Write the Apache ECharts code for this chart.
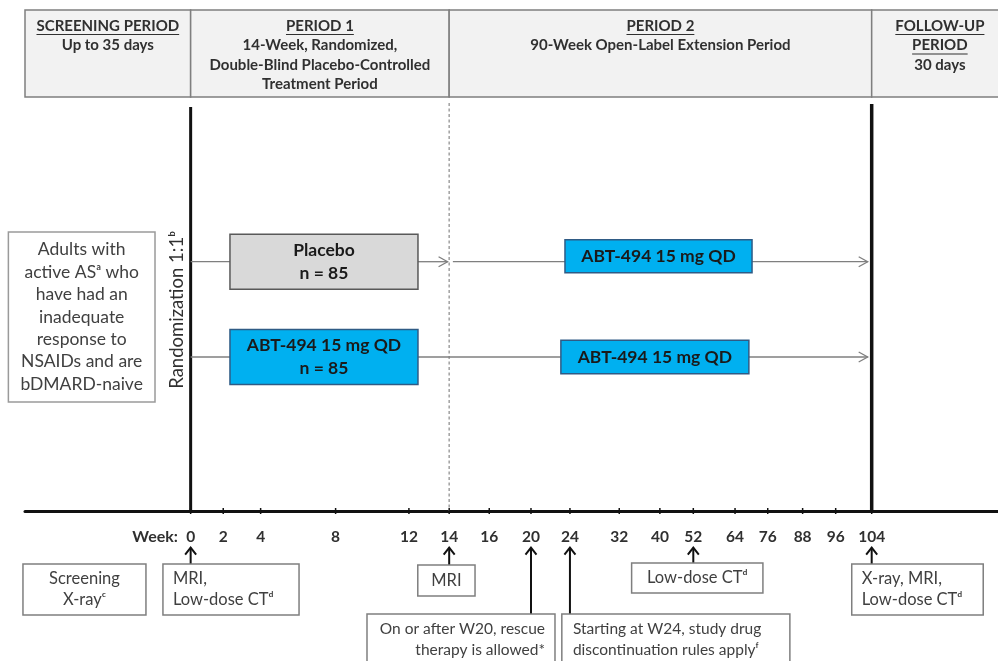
<!DOCTYPE html>
<html><head><meta charset="utf-8">
<script src="https://cdn.jsdelivr.net/npm/echarts@6/dist/echarts.min.js"></script>
<style>html,body{margin:0;padding:0;background:#fff}#c{width:998px;height:661px}</style>
</head><body><div id="c"></div>
<script>
// ================= DATA =================
const weekTicks = [0, 2, 4, 8, 12, 14, 16, 20, 24, 32, 40, 52, 64, 76, 88, 96, 104];
const periodTitles = [['SCREENING PERIOD'], ['PERIOD 1'], ['PERIOD 2'], ['FOLLOW-UP', 'PERIOD']];
const periodSubtitles = [
  ['Up to 35 days'],
  ['14-Week, Randomized,', 'Double-Blind Placebo-Controlled', 'Treatment Period'],
  ['90-Week Open-Label Extension Period'],
  ['30 days']
];
const periodStartWeek = [null, 0, 14, 104];
const periodEndWeek = [0, 14, 104, null];
const milestoneWeeks = [0, 14, 104];
const armNames = ['Placebo', 'ABT-494 15 mg QD'];
const armSizes = [85, 85];
const extensionTreatments = ['ABT-494 15 mg QD', 'ABT-494 15 mg QD'];
const populationLines = ['Adults with', 'active ASᵃ who', 'have had an', 'inadequate', 'response to', 'NSAIDs and are', 'bDMARD-naive'];
const randomizationLabel = 'Randomization 1:1ᵇ';
const weekAxisName = 'Week:';
const screeningLines = ['Screening', 'X-rayᶜ'];
const assessmentWeeks = [0, 14, 20, 24, 52, 104];
const assessmentLines = [
  ['MRI,', 'Low-dose CTᵈ'],
  ['MRI'],
  ['On or after W20, rescue', 'therapy is allowed*'],
  ['Starting at W24, study drug', 'discontinuation rules applyᶠ'],
  ['Low-dose CTᵈ'],
  ['X-ray, MRI,', 'Low-dose CTᵈ']
];

// ================= LAYOUT / STYLE =================
const AX_MIN = -8.97, AX_MAX = 43.72;   // display axis units
// display gaps between consecutive week ticks (non-linear, schematic timeline axis)
const TICK_GAPS = [1.765, 2.025, 4.06, 3.97, 2.18, 2.17, 2.26, 2.11, 2.67, 2.2, 1.81, 2.26, 1.77, 1.89, 1.79, 1.95];
const FONT = 'Lato, "Noto Sans", "DejaVu Sans", sans-serif';
const COL = {
  text: '#303030', soft: '#404040', border: '#7f7f7f', headerFill: '#f2f2f2',
  black: '#111111', arm: '#7f7f7f', placebo: '#d9d9d9', placeboBorder: '#595959',
  abt: '#00b0f0', abtBorder: '#2f5b85', dashed: '#a0a0a0'
};
const LAYOUT = {
  header: { top: 501, bottom: 414, rightWeek: 134.3, firstLineY: 485, lineH: 19.5, size: 15 },
  milestones: [
    { top: 404, w: 3, color: COL.black, dash: null },
    { top: 408, w: 1.5, color: COL.dashed, dash: [3, 2.5] },
    { top: 407, w: 3.5, color: COL.black, dash: null }
  ],
  armY: [249.3, 154],
  box1: { from: 2.36, to: 12.45, half: 27.5, size: 17.5, textDy: 11.5 },
  box2: [{ from: 23.49, to: 70.24, dy: 5.5, half: 16.5 }, { from: 23.07, to: 69.08, dy: 0, half: 16.8 }],
  population: { x0: -9.87, x1: -1.93, top: 279, bottom: 109, lineH: 22.4, size: 17.5 },
  randomization: { x: -0.74, y: 201, size: 18.5 },
  tick: { half: 3, w: 1.5 },
  tickLabel: { y: -25.7, size: 15.5 },
  weekName: { x: -0.69, y: -25.7, size: 16 },
  screening: { x0: -9.08, x1: -2.42, top: -53, bottom: -104, lineH: 21, size: 16.5 },
  assessments: [
    { dx0: -1.5, dx1: 5.87, top: -53, bottom: -104, align: 'left', tx: -0.96, size: 16.5, lineH: 21 },
    { dx0: -1.7, dx1: 1.4, top: -54, bottom: -85, align: 'center', size: 16.5, lineH: 21 },
    { dx0: -8.88, dx1: 1.30, top: -103, bottom: -175, align: 'right', tx: 0.76, size: 15.5, lineH: 21, firstY: -118 },
    { dx0: -0.44, dx1: 11.91, top: -103, bottom: -175, align: 'left', tx: 0.16, size: 15.5, lineH: 21, firstY: -118 },
    { dx0: -3.34, dx1: 3.77, top: -52, bottom: -82, align: 'center', size: 16.5, lineH: 21 },
    { dx0: -1.08, dx1: 6.04, top: -53, bottom: -104, align: 'left', tx: -0.54, size: 16.5, lineH: 21 }
  ],
  arrowTip: -35.7
};

// ================= SCALE =================
const tickPos = weekTicks.map((_, i) => TICK_GAPS.slice(0, i).reduce((s, g) => s + g, 0));
function weekToPos(w) {
  if (w <= weekTicks[0]) return w - weekTicks[0];
  for (let i = 0; i < weekTicks.length - 1; i++) {
    if (w <= weekTicks[i + 1]) return tickPos[i] + (w - weekTicks[i]) / (weekTicks[i + 1] - weekTicks[i]) * (tickPos[i + 1] - tickPos[i]);
  }
  const n = weekTicks.length - 1;
  return tickPos[n] + (w - weekTicks[n]) / (weekTicks[n] - weekTicks[n - 1]) * (tickPos[n] - tickPos[n - 1]);
}

// ================= HELPERS =================
const mctx = document.createElement('canvas').getContext('2d');
function fontStr(size, weight) { return (weight || 'normal') + ' ' + size + 'px ' + FONT; }
function textW(t, f) { mctx.font = f; return mctx.measureText(t).width; }
function T(x, y, text, size, weight, fill, align, rot) {
  const el = { type: 'text', x: x, y: y, style: { text: text, fill: fill, font: fontStr(size, weight), align: align || 'center', verticalAlign: 'middle' } };
  if (rot) { el.rotation = rot; }
  return el;
}
function Ln(x1, y1, x2, y2, stroke, w, dash) {
  return { type: 'line', shape: { x1, y1, x2, y2 }, style: { stroke, lineWidth: w, lineDash: dash || null } };
}
function R(p0, p1, fill, stroke, w) {
  return { type: 'rect', shape: { x: Math.min(p0[0], p1[0]), y: Math.min(p0[1], p1[1]), width: Math.abs(p1[0] - p0[0]), height: Math.abs(p1[1] - p0[1]) }, style: { fill, stroke, lineWidth: w } };
}
function P(points, stroke, w) { return { type: 'polyline', shape: { points }, style: { stroke, lineWidth: w, fill: null } }; }

// ================= RENDERERS =================
function renderHeader(params, api) {
  const i = params.dataIndex, H = LAYOUT.header;
  const s = periodStartWeek[i] == null ? AX_MIN : weekToPos(periodStartWeek[i]);
  const e = periodEndWeek[i] == null ? weekToPos(H.rightWeek) : weekToPos(periodEndWeek[i]);
  const p0 = api.coord([s, H.top]), p1 = api.coord([e, H.bottom]);
  const cx = (p0[0] + p1[0]) / 2;
  const ch = [R(p0, p1, COL.headerFill, COL.border, 1.5)];
  let k = 0;
  const f = fontStr(H.size, 'bold');
  periodTitles[i].forEach(t => {
    const y = api.coord([0, H.firstLineY - k * H.lineH])[1];
    ch.push(T(cx, y, t, H.size, 'bold', COL.text, 'center'));
    const w = textW(t, f);
    ch.push(Ln(cx - w / 2, y + 8.5, cx + w / 2, y + 8.5, COL.text, 1));
    k++;
  });
  periodSubtitles[i].forEach(t => {
    const y = api.coord([0, H.firstLineY - k * H.lineH])[1];
    ch.push(T(cx, y, t, H.size, 'bold', COL.text, 'center'));
    k++;
  });
  return { type: 'group', children: ch };
}

function renderMilestone(params, api) {
  const i = params.dataIndex, m = LAYOUT.milestones[i];
  const p = weekToPos(milestoneWeeks[i]);
  const a = api.coord([p, m.top]), b = api.coord([p, 0]);
  return Ln(a[0], a[1], b[0], b[1], m.color, m.w, m.dash);
}

function renderTick(params, api) {
  const i = params.dataIndex, K = LAYOUT.tick, TL = LAYOUT.tickLabel;
  const p = weekToPos(weekTicks[i]);
  const a = api.coord([p, K.half]), b = api.coord([p, -K.half]);
  const l = api.coord([p, TL.y]);
  return { type: 'group', children: [
    Ln(a[0], a[1], b[0], b[1], COL.black, K.w),
    T(l[0], l[1], String(weekTicks[i]), TL.size, 'bold', COL.text, 'center')
  ] };
}

function arrowRight(tipX, y) {
  return P([[tipX - 9, y - 5], [tipX, y], [tipX - 9, y + 5]], COL.arm, 1.3);
}

function renderArm(params, api) {
  const i = params.dataIndex, y = LAYOUT.armY[i];
  const B1 = LAYOUT.box1, B2 = LAYOUT.box2[i];
  const py = api.coord([0, y])[1];
  const x0 = api.coord([weekToPos(0), y])[0];
  const x14 = api.coord([weekToPos(14), y])[0];
  const x104 = api.coord([weekToPos(104), y])[0];
  const b1a = api.coord([weekToPos(B1.from), y + B1.half]), b1b = api.coord([weekToPos(B1.to), y - B1.half]);
  const b2a = api.coord([weekToPos(B2.from), y + B2.dy + B2.half]), b2b = api.coord([weekToPos(B2.to), y + B2.dy - B2.half]);
  const ch = [];
  ch.push(Ln(x0, py, b1a[0], py, COL.arm, 1.3));
  if (armNames[i] !== extensionTreatments[i]) {
    ch.push(Ln(b1b[0], py, x14 - 1.6, py, COL.arm, 1.3));
    ch.push(arrowRight(x14 - 1.6, py));
    ch.push(Ln(x14 + 3.7, py, b2a[0], py, COL.arm, 1.3));
  } else {
    ch.push(Ln(b1b[0], py, b2a[0], py, COL.arm, 1.3));
  }
  ch.push(Ln(b2b[0], py, x104 - 4, py, COL.arm, 1.3));
  ch.push(arrowRight(x104 - 4, py));
  const isPlacebo = /placebo/i.test(armNames[i]);
  ch.push(R(b1a, b1b, isPlacebo ? COL.placebo : COL.abt, isPlacebo ? COL.placeboBorder : COL.abtBorder, 1.5));
  const c1x = (b1a[0] + b1b[0]) / 2, c1y = (b1a[1] + b1b[1]) / 2;
  ch.push(T(c1x, c1y - B1.textDy, armNames[i], B1.size, 'bold', '#1a1a1a', 'center'));
  ch.push(T(c1x, c1y + B1.textDy, 'n = ' + armSizes[i], B1.size, 'bold', '#1a1a1a', 'center'));
  const isP2Placebo = /placebo/i.test(extensionTreatments[i]);
  ch.push(R(b2a, b2b, isP2Placebo ? COL.placebo : COL.abt, isP2Placebo ? COL.placeboBorder : COL.abtBorder, 1.5));
  ch.push(T((b2a[0] + b2b[0]) / 2, (b2a[1] + b2b[1]) / 2, extensionTreatments[i], B1.size, 'bold', '#1a1a1a', 'center'));
  return { type: 'group', children: ch };
}

function renderPopulation(params, api) {
  const L = LAYOUT.population, Rz = LAYOUT.randomization;
  const a = api.coord([L.x0, L.top]), b = api.coord([L.x1, L.bottom]);
  const ch = [R(a, b, '#ffffff', '#9a9a9a', 1.5)];
  const cx = (a[0] + b[0]) / 2, cy = (a[1] + b[1]) / 2, n = populationLines.length;
  populationLines.forEach((t, k) => ch.push(T(cx, cy + (k - (n - 1) / 2) * L.lineH, t, L.size, 'normal', COL.soft, 'center')));
  const r = api.coord([Rz.x, Rz.y]);
  ch.push(T(r[0], r[1], randomizationLabel, Rz.size, 'normal', COL.text, 'center', Math.PI / 2));
  const wn = api.coord([LAYOUT.weekName.x, LAYOUT.weekName.y]);
  ch.push(T(wn[0], wn[1], weekAxisName, LAYOUT.weekName.size, 'bold', COL.text, 'right'));
  const S = LAYOUT.screening;
  const s0 = api.coord([S.x0, S.top]), s1 = api.coord([S.x1, S.bottom]);
  ch.push(R(s0, s1, '#ffffff', COL.border, 1.5));
  const sx = (s0[0] + s1[0]) / 2, sy = (s0[1] + s1[1]) / 2, sn = screeningLines.length;
  screeningLines.forEach((t, k) => ch.push(T(sx, sy + (k - (sn - 1) / 2) * S.lineH, t, S.size, 'normal', COL.soft, 'center')));
  return { type: 'group', children: ch };
}

function renderAssessment(params, api) {
  const i = params.dataIndex, A = LAYOUT.assessments[i];
  const p = weekToPos(assessmentWeeks[i]);
  const a = api.coord([p + A.dx0, A.top]), b = api.coord([p + A.dx1, A.bottom]);
  const ax = api.coord([p, 0])[0];
  const tip = api.coord([p, LAYOUT.arrowTip])[1];
  const ch = [];
  ch.push(Ln(ax, a[1], ax, tip + 1, COL.black, 2));
  ch.push(P([[ax - 5.5, tip + 8], [ax, tip + 1], [ax + 5.5, tip + 8]], COL.black, 2));
  ch.push(R(a, b, '#ffffff', COL.border, 1.5));
  let tx;
  if (A.align === 'center') tx = (a[0] + b[0]) / 2; else tx = api.coord([p + A.tx, 0])[0];
  const lines = assessmentLines[i], n = lines.length;
  lines.forEach((t, k) => {
    let yy;
    if (A.firstY != null) yy = api.coord([0, A.firstY - k * A.lineH])[1];
    else yy = (a[1] + b[1]) / 2 + (k - (n - 1) / 2) * A.lineH;
    ch.push(T(tx, yy, t, A.size, 'normal', COL.soft, A.align));
  });
  return { type: 'group', children: ch };
}

// ================= CHART =================
const chart = echarts.init(document.getElementById('c'), null, { renderer: 'canvas' });
chart.setOption({
  animation: false,
  backgroundColor: '#ffffff',
  grid: { left: 25, right: 0, top: 0, bottom: 0, containLabel: false, outerBoundsMode: 'none' },
  xAxis: {
    type: 'value', min: AX_MIN, max: AX_MAX,
    axisLine: { onZero: true, lineStyle: { color: COL.black, width: 3 } },
    axisTick: { show: false },
    axisLabel: { show: false },
    splitLine: { show: false }
  },
  yAxis: { type: 'value', min: -150, max: 511, show: false, splitLine: { show: false } },
  series: [
    { type: 'custom', name: 'header', clip: false, silent: true, z: 2, renderItem: renderHeader, data: periodTitles.map((_, i) => [i, 0]) },
    { type: 'custom', name: 'milestones', clip: false, silent: true, z: 3, renderItem: renderMilestone, data: milestoneWeeks.map(w => [w, 0]) },
    { type: 'custom', name: 'weekTicks', clip: false, silent: true, z: 5, renderItem: renderTick, data: weekTicks.map(w => [weekToPos(w), 0]) },
    { type: 'custom', name: 'arms', clip: false, silent: true, z: 4, renderItem: renderArm, data: armNames.map((_, i) => [i, 0]) },
    { type: 'custom', name: 'population', clip: false, silent: true, z: 4, renderItem: renderPopulation, data: [[0, 0]] },
    { type: 'custom', name: 'assessments', clip: false, silent: true, z: 4, renderItem: renderAssessment, data: assessmentWeeks.map(w => [w, 0]) }
  ]
});
</script>
</body></html>
